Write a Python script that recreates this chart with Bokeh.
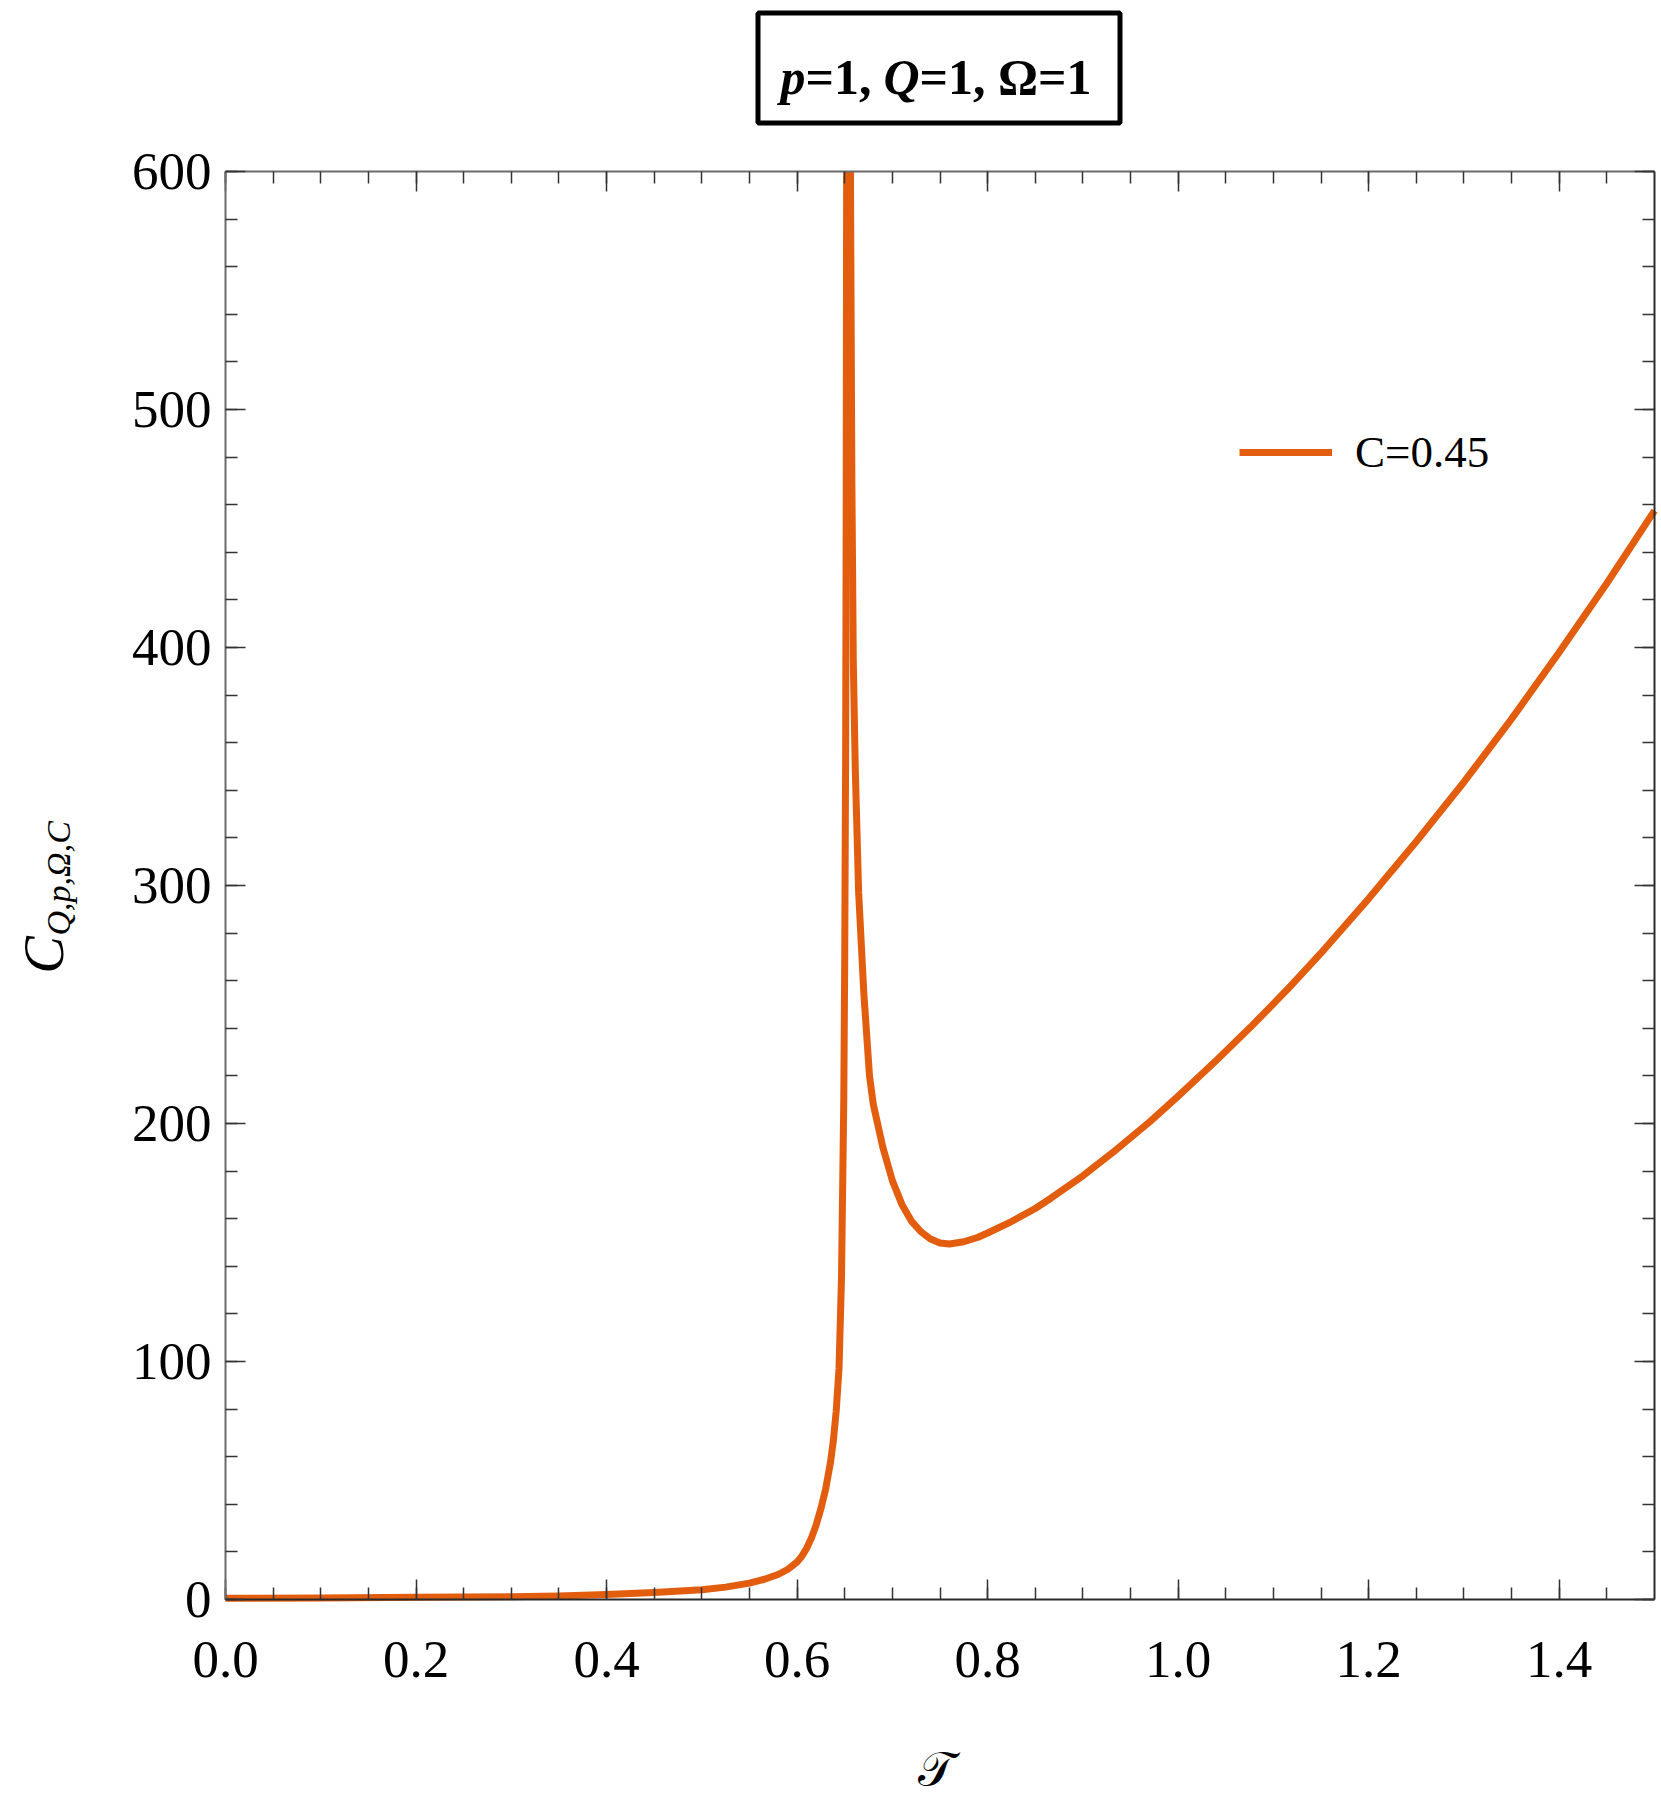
import math
from bokeh.plotting import figure
from bokeh.models import (Range1d, LinearAxis, SingleIntervalTicker, PrintfTickFormatter,
                          CustomJSTickFormatter, Label, BoxAnnotation, Legend, LegendItem)
from bokeh.embed import file_html
from bokeh.resources import INLINE

# ---- data ----
# branch rising towards the divergence
T_rise = [0.0, 0.1, 0.2, 0.3, 0.35, 0.4, 0.45, 0.5, 0.525, 0.55, 0.565, 0.58, 0.59, 0.6,
          0.605, 0.61, 0.615, 0.62, 0.625, 0.63, 0.635, 0.638, 0.641, 0.644, 0.6466,
          0.649, 0.650, 0.651, 0.6515, 0.652]
C_rise = [0.5, 0.6, 0.9, 1.2, 1.5, 2.1, 2.9, 4.1, 5.2, 6.9, 8.4, 10.5, 12.6, 15.8,
          18.2, 21.5, 25.8, 31.3, 38.2, 46.5, 57.5, 66.5, 79.0, 97.0, 135.0,
          210.0, 270.0, 360.0, 450.0, 600.0]
# branch coming down from the divergence
T_fall = [0.656, 0.6575, 0.659, 0.661, 0.6646, 0.670, 0.676, 0.680, 0.690, 0.700, 0.710,
          0.720, 0.730, 0.740, 0.750, 0.760, 0.775, 0.790, 0.800, 0.825, 0.850, 0.866,
          0.900, 0.935, 0.971, 1.000, 1.040, 1.076, 1.115, 1.153, 1.200, 1.250, 1.300,
          1.350, 1.400, 1.450, 1.500]
C_fall = [600.0, 470.0, 394.0, 350.0, 297.0, 255.0, 220.0, 208.0, 190.0, 176.0, 166.0,
          159.0, 154.5, 151.5, 149.8, 149.4, 150.3, 152.2, 154.0, 158.8, 164.3, 168.5,
          178.0, 189.0, 201.0, 211.5, 226.5, 240.5, 256.5, 273.0, 294.5, 318.5, 343.5,
          370.0, 398.0, 427.0, 457.5]

x_ticks_interval = 0.2
y_ticks_interval = 100
legend_label = "C=0.45"
title_parts = ["p", "=1, ", "Q", "=1, \u03a9=1"]
ylabel_main = "C"
ylabel_sub = "Q,p,\u03a9,C"
xlabel = "\U0001D4AF"

ORANGE = "#E35D0F"
FONT = "Liberation Serif"

W, H = 1660, 1800
# where the data box sits on the canvas (px)
BOX_L, BOX_R, BOX_T, BOX_B = 225, 1654, 171, 1599
X0, X1, Y0, Y1 = 0.0, 1.5, 0.0, 600.0
kx = (BOX_R - BOX_L) / (X1 - X0)
ky = (BOX_B - BOX_T) / (Y1 - Y0)

p = figure(width=W, height=H, output_backend="svg", toolbar_location=None,
           x_range=Range1d(X0 - BOX_L / kx, X1 + (W - BOX_R) / kx),
           y_range=Range1d(Y0 - (H - BOX_B) / ky, Y1 + BOX_T / ky),
           min_border_left=0, min_border_right=0, min_border_top=0, min_border_bottom=0)
p.xgrid.visible = False
p.ygrid.visible = False
p.background_fill_color = "white"
p.border_fill_color = "white"
p.outline_line_color = None

r1 = p.line(T_rise, C_rise, line_color=ORANGE, line_width=7, line_join="round")
r2 = p.line(T_fall, C_fall, line_color=ORANGE, line_width=7, line_join="round")


def style_axis(ax, line_color, labels=True):
    ax.major_tick_in = 20
    ax.major_tick_out = 0
    ax.minor_tick_in = 12
    ax.minor_tick_out = 0
    ax.major_tick_line_color = "#333333"
    ax.minor_tick_line_color = "#333333"
    ax.major_tick_line_width = 1.5
    ax.minor_tick_line_width = 1.5
    ax.axis_line_color = line_color
    ax.axis_line_width = 2
    ax.major_label_text_font = FONT
    ax.major_label_text_font_size = "53px"
    ax.major_label_text_color = "black"
    if not labels:
        ax.formatter = CustomJSTickFormatter(code="return ''")
        ax.major_label_standoff = 0


bx = p.xaxis[0]
bx.ticker = SingleIntervalTicker(interval=x_ticks_interval, num_minor_ticks=4)
bx.formatter = PrintfTickFormatter(format="%.1f")
style_axis(bx, "#2a2a2a")
bx.fixed_location = Y0
bx.bounds = (X0, X1)
bx.major_label_standoff = 42

ly = p.yaxis[0]
ly.ticker = SingleIntervalTicker(interval=y_ticks_interval, num_minor_ticks=5)
style_axis(ly, "#6b6b6b")
ly.fixed_location = X0
ly.bounds = (Y0, Y1)
ly.major_label_standoff = 14

top = LinearAxis(ticker=SingleIntervalTicker(interval=x_ticks_interval, num_minor_ticks=4))
style_axis(top, "#6b6b6b", labels=False)
top.fixed_location = Y1
top.bounds = (X0, X1)
p.add_layout(top, "above")

right = LinearAxis(ticker=SingleIntervalTicker(interval=y_ticks_interval, num_minor_ticks=5))
style_axis(right, "#2a2a2a", labels=False)
right.fixed_location = X1
right.bounds = (Y0, Y1)
p.add_layout(right, "right")


def sx(px):
    return px


def sy(py):
    return H - py


# legend
legend = Legend(items=[LegendItem(label=legend_label, renderers=[r1])],
                location=(sx(1239), sy(478)), border_line_color=None, background_fill_alpha=0,
                label_text_font=FONT, label_text_font_size="45px", label_text_color="black",
                glyph_width=93, glyph_height=50, label_height=50, label_standoff=23,
                padding=0, margin=0, spacing=0)
p.add_layout(legend)

# boxed title
box = BoxAnnotation(left=sx(757.5), right=sx(1119.5), top=sy(12.5), bottom=sy(122.5),
                    left_units="screen", right_units="screen", top_units="screen",
                    bottom_units="screen", fill_color="white", fill_alpha=1,
                    line_color="black", line_alpha=1, line_width=5)
p.add_layout(box)

title_x = [780, 805, 883, 919]
title_style = ["bold italic", "bold", "bold italic", "bold"]
for txt, tx, st in zip(title_parts, title_x, title_style):
    p.add_layout(Label(x=sx(tx), y=sy(76), x_units="screen", y_units="screen", text=txt,
                       text_font=FONT, text_font_size="50px", text_font_style=st,
                       text_baseline="alphabetic", text_align="left", text_color="black"))

# y label  C_{Q,p,Omega,C}
p.add_layout(Label(x=sx(43), y=sy(973), x_units="screen", y_units="screen", text=ylabel_main,
                   angle=math.pi / 2, text_font=FONT, text_font_size="56px",
                   text_font_style="italic", text_baseline="alphabetic", text_align="left",
                   text_color="black"))
p.add_layout(Label(x=sx(58), y=sy(935), x_units="screen", y_units="screen", text=ylabel_sub,
                   angle=math.pi / 2, text_font=FONT, text_font_size="34px",
                   text_font_style="italic", text_baseline="alphabetic", text_align="left",
                   text_color="black"))

# x label
p.add_layout(Label(x=sx(936), y=sy(1769), x_units="screen", y_units="screen", text=xlabel,
                   text_font=FONT, text_font_size="48px", text_baseline="alphabetic",
                   text_align="center", text_color="black"))

open("out.html", "w").write(file_html(p, INLINE))
